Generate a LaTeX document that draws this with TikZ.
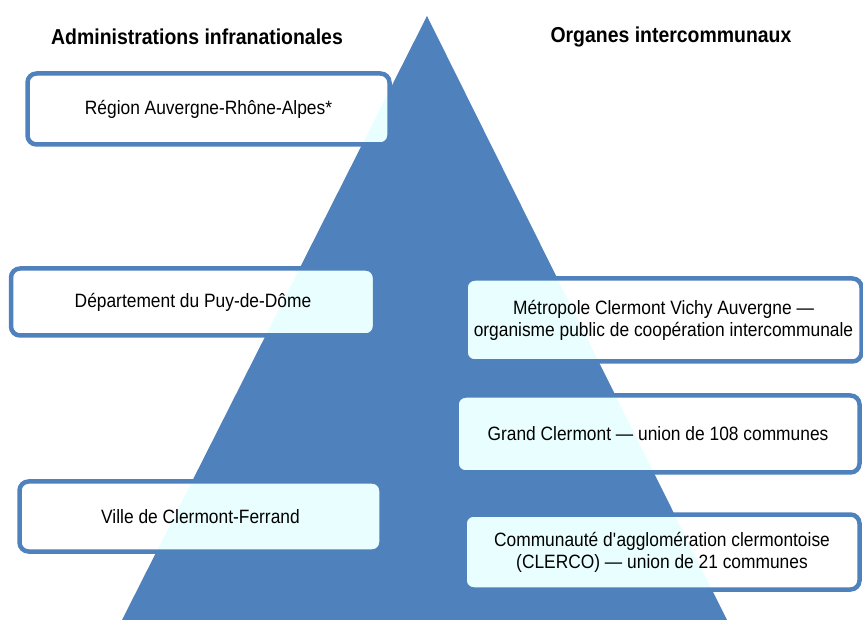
\documentclass[tikz,border=0pt]{standalone}
\usepackage{fontspec}
\setmainfont{Liberation Sans}[FakeStretch=0.9]
\usepackage{tikz,xcolor}
\usetikzlibrary{calc,positioning,shapes.misc}

\definecolor{pyrblue}{RGB}{79,129,189}
\definecolor{pyrtint}{RGB}{233,255,255}

\tikzset{
    orgbox/.style = {draw=pyrblue, line width=4.5pt, fill=white, rounded corners=9pt,
        align=center, inner sep=0pt, font=\fontsize{19.3}{22}\selectfont,
        path picture={\fill[pyrtint] (apex) -- (baseL) -- (baseR) -- cycle;}},
    headtxt/.style = {font=\fontsize{21.6}{24}\selectfont\bfseries}
}

\begin{document}
\begin{tikzpicture}[x=1pt, y=-1pt]
    
        \useasboundingbox (0,0) rectangle (863,620);
    
        \coordinate (apex) at (427,16);
        \coordinate (baseL) at (122,620);
        \coordinate (baseR) at (727,620);
        \fill[pyrblue] (apex) -- (baseL) -- (baseR) -- cycle;
        
        \node[headtxt] (admin) at (197,37) {Administrations infranationales};
        \node[headtxt] (organes) at (671,37) {Organes intercommunaux};
        
        \node[orgbox, minimum width=362pt, minimum height=71pt] (region) at (208.5,109) {R\'egion Auvergne-Rh\^one-Alpes*};
        \node[orgbox, minimum width=364pt, minimum height=67pt] (depart) at (193,302) {D\'epartement du Puy-de-D\^ome};
        \node[orgbox, minimum width=362pt, minimum height=70pt] (ville) at (200.5,516.5) {Ville de Clermont-Ferrand};
        
        \node[orgbox, minimum width=396pt, minimum height=83pt] (metropole) at (663.5,320) {M\'etropole Clermont Vichy Auvergne ---\\organisme public de coop\'eration intercommunale};
        \node[orgbox, minimum width=403pt, minimum height=77pt] (grand) at (658,434) {Grand Clermont --- union de 108 communes};
        \node[orgbox, minimum width=395pt, minimum height=75pt] (clerco) at (662,552) {Communaut\'e d\textquotesingle agglom\'eration clermontoise\\(CLERCO) --- union de 21 communes};
    \end{tikzpicture}
\end{document}
